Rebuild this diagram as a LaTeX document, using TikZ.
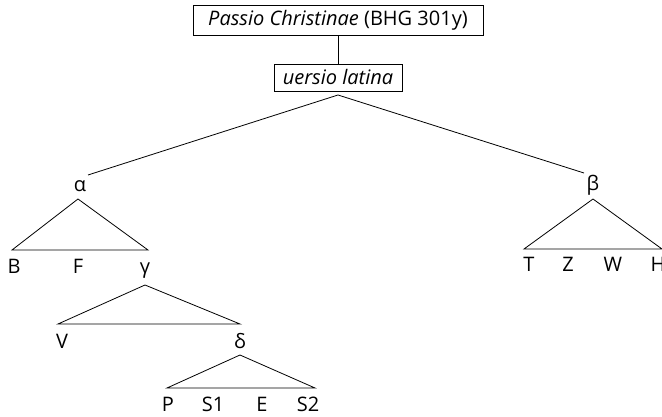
\documentclass[tikz,border=0pt]{standalone}
\usepackage{fontspec}
\setmainfont{Open Sans}
\begin{document}
\begin{tikzpicture}[x=1pt,y=-1pt,
  lbl/.style={inner sep=0pt,anchor=base,font=\fontsize{20}{20}\selectfont},
  boxed/.style={draw,line width=0.8pt,inner sep=1pt,font=\fontsize{20}{20}\selectfont},
  ln/.style={line width=0.8pt}]
\useasboundingbox (0,0) rectangle (662,417);
\node[boxed,minimum height=30pt,minimum width=290pt] (top) at (338,20) {\textit{Passio Christinae} (BHG 301y)};
\node[boxed,minimum height=27pt,minimum width=128pt] (ver) at (338,77.5) {\textit{uersio latina}};
\draw[ln] (top.south) -- (ver.north);
\coordinate (apex) at (338,95);
\node[lbl] (alpha) at (80,192) {α};
\node[lbl] (beta) at (593,191) {β};
\coordinate (aend) at (88,175);
\coordinate (bend) at (584,173);
\draw[ln] (apex) -- (aend);
\draw[ln] (apex) -- (bend);
% alpha triangle
\draw[ln] (12,250) -- (78,199) -- (148,250) -- cycle;
\node[lbl] (B) at (14,273) {B};
\node[lbl] (F) at (78,273) {F};
\node[lbl] (gamma) at (145,273) {γ};
% beta triangle
\draw[ln] (524,249) -- (593,199) -- (662,249) -- cycle;
\node[lbl] (T) at (529,271) {T};
\node[lbl] (Z) at (568,271) {Z};
\node[lbl] (W) at (613,271) {W};
\node[lbl] (H) at (658,271) {H};
% gamma triangle
\draw[ln] (58,324) -- (145,285) -- (240,324) -- cycle;
\node[lbl] (V) at (62,348) {V};
\node[lbl] (delta) at (240,348) {δ};
% delta triangle
\draw[ln] (167,388) -- (240,355) -- (315,388) -- cycle;
\node[lbl] (P) at (168,411) {P};
\node[lbl] (S1) at (213,411) {S1};
\node[lbl] (E) at (262,411) {E};
\node[lbl] (S2) at (308,411) {S2};
\end{tikzpicture}
\end{document}
